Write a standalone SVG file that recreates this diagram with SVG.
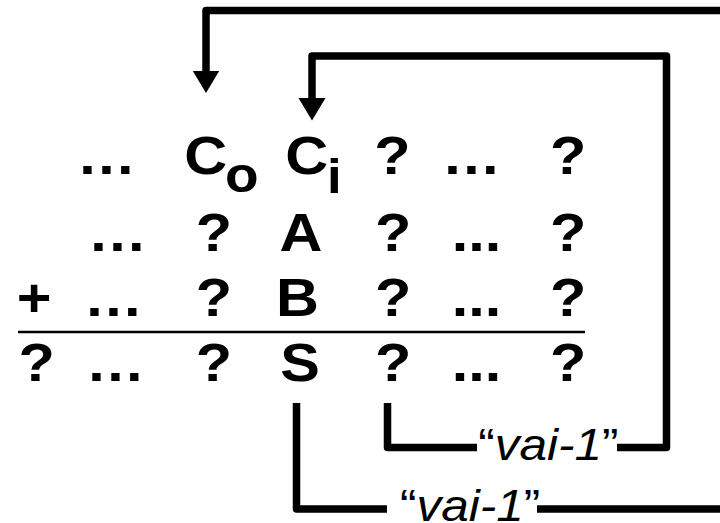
<svg xmlns="http://www.w3.org/2000/svg" width="720" height="523" viewBox="0 0 720 523">
  <style>
    .d { font-family: "Liberation Sans", Arial, sans-serif; font-weight: bold; font-size: 54px; fill: #000; text-anchor: middle; }
    .s { font-family: "Liberation Sans", Arial, sans-serif; font-weight: bold; font-size: 54px; fill: #000; }
    .lbl { font-family: "Liberation Sans", Arial, sans-serif; font-size: 45px; fill: #000; text-anchor: middle; }
    .it { font-style: italic; }
    .wire { fill: none; stroke: #000; stroke-width: 7.5; stroke-linejoin: round; }
    .rule { stroke: #000; stroke-width: 2.5; }
  </style>
  <defs>
    <marker id="arrow" markerUnits="userSpaceOnUse" markerWidth="23" markerHeight="28" viewBox="0 0 23 28" refX="1" refY="14" orient="auto">
      <path d="M0,0.5 L22.5,14 L0,27.5 Z" fill="#000"/>
    </marker>
  </defs>

  <rect width="720" height="523" fill="#fff"/>

  <!-- carry connectors -->
  <g id="connectors">
    <path class="wire" d="M387.5,403 V447.5 H477"/>
    <path class="wire" d="M617,447.5 H666.5 V56 H312 V99" marker-end="url(#arrow)"/>
    <path class="wire" d="M296.5,403 V509 H387"/>
    <path class="wire" d="M537,509 H730"/>
    <path class="wire" d="M730,10.5 H206 V71.5" marker-end="url(#arrow)"/>
  </g>

  <!-- sum rule -->
  <line class="rule" x1="18" y1="332" x2="585" y2="332"/>

  <g transform="scale(1.1 1)">
    <g id="row-carry">
      <text class="d" x="96.8" y="174">…</text>
      <text class="s" x="167.5" y="174">C<tspan dx="-2" dy="18" font-size="50">o</tspan></text>
      <text class="s" x="259.4" y="174">C<tspan dx="-1" dy="19" font-size="48">i</tspan></text>
      <text class="d" x="356.8" y="174">?</text>
      <text class="d" x="428.6" y="174">…</text>
      <text class="d" x="516.4" y="174">?</text>
    </g>
    <g id="row-a">
      <text class="d" x="106.8" y="251">…</text>
      <text class="d" x="194.5" y="251">?</text>
      <text class="d" x="273.6" y="251">A</text>
      <text class="d" x="357.3" y="251">?</text>
      <text class="d" x="433.2" y="251">...</text>
      <text class="d" x="516.4" y="251">?</text>
    </g>
    <g id="row-b">
      <text class="d" x="30.9" y="316">+</text>
      <text class="d" x="103.2" y="316">…</text>
      <text class="d" x="194.5" y="316">?</text>
      <text class="d" x="270.5" y="316">B</text>
      <text class="d" x="357.3" y="316">?</text>
      <text class="d" x="433.2" y="316">...</text>
      <text class="d" x="516.4" y="316">?</text>
    </g>
    <g id="row-sum">
      <text class="d" x="33.4" y="381">?</text>
      <text class="d" x="105" y="381">…</text>
      <text class="d" x="194.5" y="381">?</text>
      <text class="d" x="272.7" y="381">S</text>
      <text class="d" x="357.3" y="381">?</text>
      <text class="d" x="433.2" y="381">...</text>
      <text class="d" x="516.4" y="381">?</text>
    </g>
    <g id="label-carry-inner">
      <text class="lbl" x="498.6" y="460">“<tspan class="it">vai-1</tspan>”</text>
    </g>
    <g id="label-carry-outer">
      <text class="lbl" x="427.3" y="521">“<tspan class="it">vai-1</tspan>”</text>
    </g>
  </g>
</svg>
